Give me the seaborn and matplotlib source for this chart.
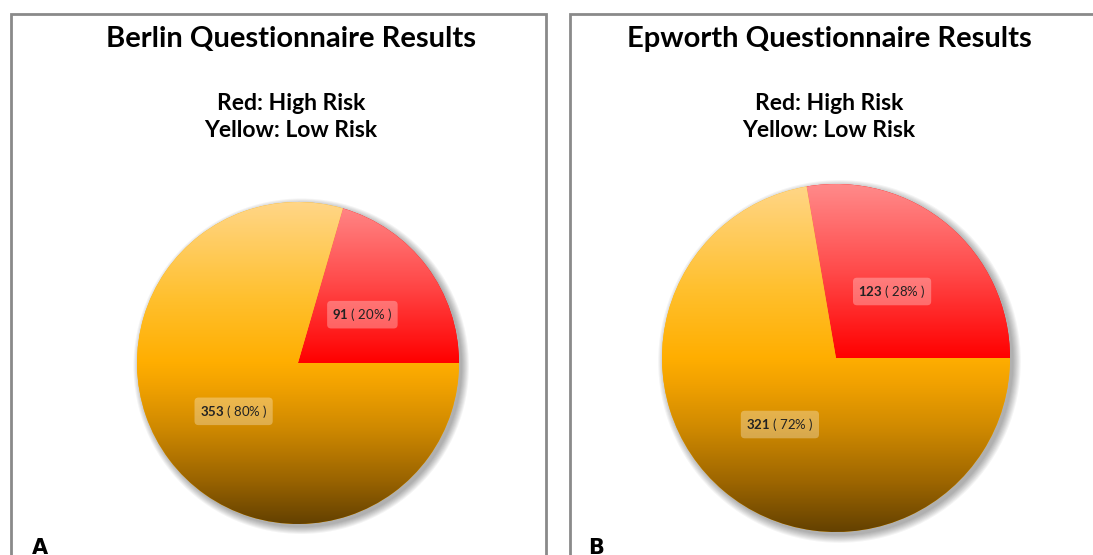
import matplotlib
matplotlib.use("Agg")
import matplotlib.pyplot as plt
import numpy as np
import seaborn as sns
from matplotlib.colors import LinearSegmentedColormap
from matplotlib.patches import Rectangle, Circle

# chart data
titles = ["Berlin Questionnaire Results", "Epworth Questionnaire Results"]
subtitle = "Red: High Risk\nYellow: Low Risk"
panel_tags = ["A", "B"]
risk_labels = ["High Risk", "Low Risk"]
berlin_counts = [91, 353]
epworth_counts = [123, 321]

_W, _H = 1093, 555
_dpi = 100

sns.set_theme(style="white")
plt.rcParams["font.family"] = ["Lato", "DejaVu Sans"]
plt.rcParams["mathtext.fontset"] = "custom"
plt.rcParams["mathtext.bf"] = "Lato:bold"
plt.rcParams["mathtext.rm"] = "Lato"

# vertical gradients, 0 = bottom of pie, 0.5 = centre, 1 = top
red_cmap = LinearSegmentedColormap.from_list(
    "red", [(0.0, "#ff0000"), (0.5, "#ff0000"), (0.75, "#ff4a4a"), (1.0, "#ff8a8a")])
orange_cmap = LinearSegmentedColormap.from_list(
    "orange", [(0.0, "#644100"), (0.14, "#9c6500"), (0.3, "#d08a00"),
               (0.43, "#f2a200"), (0.5, "#ffae00"), (0.7, "#ffc02e"), (1.0, "#ffd688")])


def px_rect(x0, y0, x1, y1):
    return [x0 / _W, 1 - y1 / _H, (x1 - x0) / _W, (y1 - y0) / _H]


def draw_pie(fig, counts, cx, cy, r):
    pad = 1.12
    ax = fig.add_axes(px_rect(cx - r * pad, cy - r * pad, cx + r * pad, cy + r * pad))
    ax.axis("off")

    # soft drop shadow
    for k in range(8):
        ax.add_patch(Circle((0.02, -0.02), 1.0 + 0.006 * k, color="black",
                            alpha=0.045, lw=0, zorder=0))

    wedges, _ = ax.pie(counts, startangle=0, counterclock=True,
                       colors=["#ff0000", "#ffb000"], radius=1.0,
                       wedgeprops=dict(linewidth=0))
    ax.set_xlim(-pad, pad)
    ax.set_ylim(-pad, pad)

    grad = np.linspace(0, 1, 256).reshape(-1, 1)
    for w, cmap in zip(wedges, [red_cmap, orange_cmap]):
        im = ax.imshow(grad, cmap=cmap, extent=(-1, 1, -1, 1), origin="lower",
                       aspect="auto", zorder=3, interpolation="bilinear")
        im.set_clip_path(w)

    total = sum(counts)
    for w, n in zip(wedges, counts):
        theta = np.deg2rad((w.theta1 + w.theta2) / 2)
        pct = round(100 * n / total)
        ax.text(0.5 * np.cos(theta), 0.5 * np.sin(theta),
                r"$\mathbf{%d}$ ( %d%% )" % (n, pct),
                ha="center", va="center", fontsize=9.5, color="#222222", zorder=5,
                bbox=dict(boxstyle="round,pad=0.4,rounding_size=0.3",
                          fc="white", ec="none", alpha=0.3))
    return ax


fig = plt.figure(figsize=(_W / _dpi, _H / _dpi), dpi=_dpi)

# panel frames
for x0, x1 in [(11, 546), (570, 1110)]:
    fig.patches.append(Rectangle((x0 / _W, -0.05), (x1 - x0) / _W, 1 - 14 / _H + 0.05,
                                 transform=fig.transFigure, fill=False,
                                 ec="#8a8a8a", lw=2))

panels = [(berlin_counts, 298, 363, 161, 291, 40), (epworth_counts, 836, 358, 174, 829, 596)]
for i, (counts, cx, cy, r, tx, ax_tag) in enumerate(panels):
    draw_pie(fig, counts, cx, cy, r)
    fig.text(tx / _W, 1 - 39 / _H, titles[i], ha="center", va="center",
             fontsize=21, fontweight="bold", color="black")
    fig.text(tx / _W, 1 - 117 / _H, subtitle, ha="center", va="center",
             fontsize=16.5, fontweight="bold", color="black", linespacing=1.3)
    fig.text(ax_tag / _W, 1 - 538 / _H, panel_tags[i], ha="center", va="top",
             fontsize=15, fontweight="bold", color="black", family="DejaVu Sans")

fig.savefig("out.png", dpi=_dpi)
